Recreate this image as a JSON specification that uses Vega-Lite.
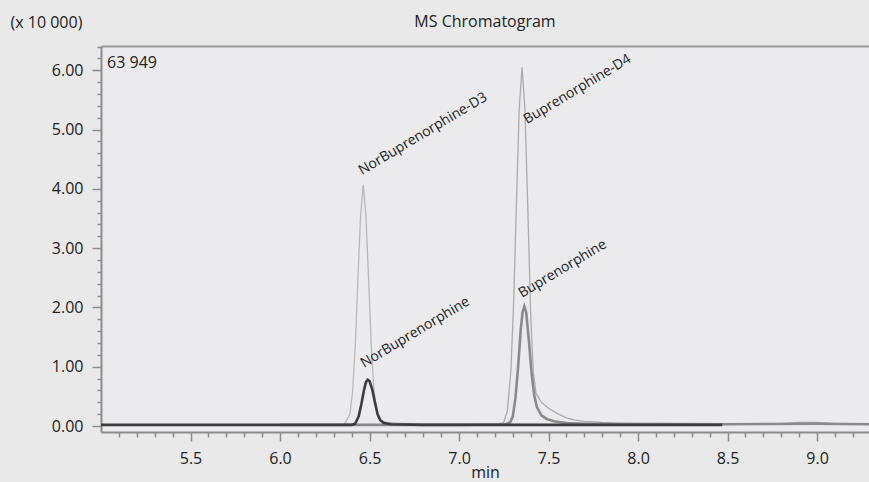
{
  "$schema": "https://vega.github.io/schema/vega-lite/v6.json",
  "width": 768,
  "height": 386,
  "autosize": {"type": "none"},
  "padding": {"left": 101, "top": 46, "right": 0, "bottom": 50},
  "background": "#e9e9ea",
  "title": {"text": "MS Chromatogram", "anchor": "middle", "fontSize": 16, "fontWeight": "normal", "color": "#222222", "font": "Open Sans", "dy": 20},
  "config": {"font": "Open Sans", "view": {"stroke": null, "fill": "#ebebed"}, "axis": {"labelOverlap": false, "labelBound": false, "labelFlush": false}},
  "resolve": {"axis": {"x": "independent", "y": "independent"}},
  "datasets": {
    "traces": [
      {"series": "NorBuprenorphine-D3", "t": 6.0, "v": 0.02},
      {"series": "NorBuprenorphine-D3", "t": 6.3, "v": 0.02},
      {"series": "NorBuprenorphine-D3", "t": 6.36, "v": 0.03},
      {"series": "NorBuprenorphine-D3", "t": 6.39, "v": 0.2},
      {"series": "NorBuprenorphine-D3", "t": 6.405, "v": 0.57},
      {"series": "NorBuprenorphine-D3", "t": 6.42, "v": 1.34},
      {"series": "NorBuprenorphine-D3", "t": 6.435, "v": 2.48},
      {"series": "NorBuprenorphine-D3", "t": 6.45, "v": 3.55},
      {"series": "NorBuprenorphine-D3", "t": 6.465, "v": 4.07},
      {"series": "NorBuprenorphine-D3", "t": 6.48, "v": 3.55},
      {"series": "NorBuprenorphine-D3", "t": 6.495, "v": 2.45},
      {"series": "NorBuprenorphine-D3", "t": 6.51, "v": 1.34},
      {"series": "NorBuprenorphine-D3", "t": 6.525, "v": 0.6},
      {"series": "NorBuprenorphine-D3", "t": 6.54, "v": 0.25},
      {"series": "NorBuprenorphine-D3", "t": 6.56, "v": 0.1},
      {"series": "NorBuprenorphine-D3", "t": 6.6, "v": 0.06},
      {"series": "NorBuprenorphine-D3", "t": 6.7, "v": 0.04},
      {"series": "NorBuprenorphine-D3", "t": 7.0, "v": 0.03},
      {"series": "NorBuprenorphine-D3", "t": 7.5, "v": 0.03},
      {"series": "NorBuprenorphine-D3", "t": 8.0, "v": 0.03},
      {"series": "NorBuprenorphine-D3", "t": 8.5, "v": 0.03},
      {"series": "NorBuprenorphine-D3", "t": 9.0, "v": 0.03},
      {"series": "NorBuprenorphine-D3", "t": 9.29, "v": 0.03},

      {"series": "Buprenorphine-D4", "t": 6.0, "v": 0.02},
      {"series": "Buprenorphine-D4", "t": 6.6, "v": 0.03},
      {"series": "Buprenorphine-D4", "t": 7.0, "v": 0.03},
      {"series": "Buprenorphine-D4", "t": 7.2, "v": 0.03},
      {"series": "Buprenorphine-D4", "t": 7.25, "v": 0.06},
      {"series": "Buprenorphine-D4", "t": 7.27, "v": 0.26},
      {"series": "Buprenorphine-D4", "t": 7.29, "v": 0.95},
      {"series": "Buprenorphine-D4", "t": 7.305, "v": 2.09},
      {"series": "Buprenorphine-D4", "t": 7.32, "v": 3.7},
      {"series": "Buprenorphine-D4", "t": 7.336, "v": 5.34},
      {"series": "Buprenorphine-D4", "t": 7.352, "v": 6.05},
      {"series": "Buprenorphine-D4", "t": 7.368, "v": 5.34},
      {"series": "Buprenorphine-D4", "t": 7.384, "v": 3.7},
      {"series": "Buprenorphine-D4", "t": 7.4, "v": 1.9},
      {"series": "Buprenorphine-D4", "t": 7.415, "v": 0.9},
      {"series": "Buprenorphine-D4", "t": 7.43, "v": 0.55},
      {"series": "Buprenorphine-D4", "t": 7.46, "v": 0.4},
      {"series": "Buprenorphine-D4", "t": 7.5, "v": 0.3},
      {"series": "Buprenorphine-D4", "t": 7.55, "v": 0.21},
      {"series": "Buprenorphine-D4", "t": 7.6, "v": 0.14},
      {"series": "Buprenorphine-D4", "t": 7.65, "v": 0.1},
      {"series": "Buprenorphine-D4", "t": 7.7, "v": 0.08},
      {"series": "Buprenorphine-D4", "t": 7.8, "v": 0.06},
      {"series": "Buprenorphine-D4", "t": 7.9, "v": 0.05},
      {"series": "Buprenorphine-D4", "t": 8.0, "v": 0.05},
      {"series": "Buprenorphine-D4", "t": 8.5, "v": 0.04},
      {"series": "Buprenorphine-D4", "t": 8.8, "v": 0.04},
      {"series": "Buprenorphine-D4", "t": 8.9, "v": 0.06},
      {"series": "Buprenorphine-D4", "t": 9.0, "v": 0.06},
      {"series": "Buprenorphine-D4", "t": 9.1, "v": 0.04},
      {"series": "Buprenorphine-D4", "t": 9.29, "v": 0.03},

      {"series": "Buprenorphine", "t": 6.0, "v": 0.02},
      {"series": "Buprenorphine", "t": 7.0, "v": 0.02},
      {"series": "Buprenorphine", "t": 7.26, "v": 0.03},
      {"series": "Buprenorphine", "t": 7.285, "v": 0.06},
      {"series": "Buprenorphine", "t": 7.3, "v": 0.16},
      {"series": "Buprenorphine", "t": 7.315, "v": 0.47},
      {"series": "Buprenorphine", "t": 7.33, "v": 1.0},
      {"series": "Buprenorphine", "t": 7.345, "v": 1.64},
      {"series": "Buprenorphine", "t": 7.355, "v": 1.92},
      {"series": "Buprenorphine", "t": 7.365, "v": 2.02},
      {"series": "Buprenorphine", "t": 7.375, "v": 1.92},
      {"series": "Buprenorphine", "t": 7.39, "v": 1.45},
      {"series": "Buprenorphine", "t": 7.405, "v": 0.9},
      {"series": "Buprenorphine", "t": 7.42, "v": 0.52},
      {"series": "Buprenorphine", "t": 7.435, "v": 0.32},
      {"series": "Buprenorphine", "t": 7.46, "v": 0.18},
      {"series": "Buprenorphine", "t": 7.49, "v": 0.12},
      {"series": "Buprenorphine", "t": 7.53, "v": 0.08},
      {"series": "Buprenorphine", "t": 7.6, "v": 0.05},
      {"series": "Buprenorphine", "t": 7.7, "v": 0.04},
      {"series": "Buprenorphine", "t": 8.0, "v": 0.03},
      {"series": "Buprenorphine", "t": 8.5, "v": 0.03},
      {"series": "Buprenorphine", "t": 9.0, "v": 0.04},
      {"series": "Buprenorphine", "t": 9.29, "v": 0.03},

      {"series": "NorBuprenorphine", "t": 5.0, "v": 0.02},
      {"series": "NorBuprenorphine", "t": 5.5, "v": 0.02},
      {"series": "NorBuprenorphine", "t": 6.0, "v": 0.02},
      {"series": "NorBuprenorphine", "t": 6.4, "v": 0.02},
      {"series": "NorBuprenorphine", "t": 6.42, "v": 0.04},
      {"series": "NorBuprenorphine", "t": 6.44, "v": 0.17},
      {"series": "NorBuprenorphine", "t": 6.455, "v": 0.38},
      {"series": "NorBuprenorphine", "t": 6.47, "v": 0.62},
      {"series": "NorBuprenorphine", "t": 6.48, "v": 0.74},
      {"series": "NorBuprenorphine", "t": 6.49, "v": 0.78},
      {"series": "NorBuprenorphine", "t": 6.5, "v": 0.76},
      {"series": "NorBuprenorphine", "t": 6.515, "v": 0.62},
      {"series": "NorBuprenorphine", "t": 6.53, "v": 0.4},
      {"series": "NorBuprenorphine", "t": 6.545, "v": 0.2},
      {"series": "NorBuprenorphine", "t": 6.56, "v": 0.1},
      {"series": "NorBuprenorphine", "t": 6.58, "v": 0.05},
      {"series": "NorBuprenorphine", "t": 6.62, "v": 0.03},
      {"series": "NorBuprenorphine", "t": 6.8, "v": 0.02},
      {"series": "NorBuprenorphine", "t": 7.0, "v": 0.02},
      {"series": "NorBuprenorphine", "t": 7.5, "v": 0.02},
      {"series": "NorBuprenorphine", "t": 8.0, "v": 0.02},
      {"series": "NorBuprenorphine", "t": 8.47, "v": 0.02}
    ],
    "peaks": [
      {"label": "NorBuprenorphine-D3", "t": 6.458, "v": 4.23},
      {"label": "NorBuprenorphine", "t": 6.469, "v": 0.98},
      {"label": "Buprenorphine-D4", "t": 7.38, "v": 5.09},
      {"label": "Buprenorphine", "t": 7.352, "v": 2.16}
    ],
    "notes": [
      {"label": "63 949", "t": 5.034, "v": 6.04}
    ]
  },
  "layer": [
    {
      "data": {"name": "traces"},
      "transform": [{"filter": "datum.series === 'NorBuprenorphine-D3'"}],
      "mark": {"type": "line", "color": "#b8b8b8", "strokeWidth": 1.3},
      "encoding": {
        "x": {
          "field": "t", "type": "quantitative", "title": "min",
          "scale": {"domain": [5.0, 9.29], "nice": false, "zero": false},
          "axis": {
            "orient": "bottom",
            "values": [5.1,5.2,5.3,5.4,5.5,5.6,5.7,5.8,5.9,6.0,6.1,6.2,6.3,6.4,6.5,6.6,6.7,6.8,6.9,7.0,7.1,7.2,7.3,7.4,7.5,7.6,7.7,7.8,7.9,8.0,8.1,8.2,8.3,8.4,8.5,8.6,8.7,8.8,8.9,9.0,9.1,9.2],
            "labelExpr": "abs(datum.value*2 - round(datum.value*2)) < 0.001 ? format(datum.value, '.1f') : ''",
            "tickSize": {"condition": {"test": "abs(datum.value*2 - round(datum.value*2)) < 0.001", "value": 9}, "value": 5},
            "tickColor": "#8c8c8c", "tickWidth": 1.5,
            "domainColor": "#8c8c8c", "domainWidth": 2,
            "grid": false,
            "labelFontSize": 16, "labelColor": "#222222", "labelPadding": 9,
            "titleFontSize": 16, "titleFontWeight": "normal", "titleColor": "#222222", "titlePadding": -2
          }
        },
        "y": {
          "field": "v", "type": "quantitative", "title": "(x 10 000)",
          "scale": {"domain": [-0.1, 6.41], "nice": false, "zero": false},
          "axis": {
            "titleAngle": 0, "titleAlign": "left", "titleBaseline": "middle",
            "titleX": -91, "titleY": -24, "titleFontSize": 16, "titleFontWeight": "normal", "titleColor": "#222222",
            "values": [0,0.2,0.4,0.6,0.8,1,1.2,1.4,1.6,1.8,2,2.2,2.4,2.6,2.8,3,3.2,3.4,3.6,3.8,4,4.2,4.4,4.6,4.8,5,5.2,5.4,5.6,5.8,6,6.2,6.4],
            "labelExpr": "abs(datum.value - round(datum.value)) < 0.001 ? format(datum.value, '.2f') : ''",
            "tickSize": {"condition": {"test": "abs(datum.value - round(datum.value)) < 0.001", "value": 9}, "value": 4},
            "tickColor": "#8c8c8c", "tickWidth": 1.5,
            "domainColor": "#8c8c8c", "domainWidth": 2,
            "grid": false,
            "labelFontSize": 16, "labelColor": "#222222", "labelPadding": 9
          }
        }
      }
    },
    {
      "data": {"name": "traces"},
      "transform": [{"filter": "datum.series === 'Buprenorphine-D4'"}],
      "mark": {"type": "line", "color": "#ababab", "strokeWidth": 1.3},
      "encoding": {
        "x": {"field": "t", "type": "quantitative", "axis": null},
        "y": {"field": "v", "type": "quantitative", "axis": null}
      }
    },
    {
      "data": {"name": "traces"},
      "transform": [{"filter": "datum.series === 'Buprenorphine'"}],
      "mark": {"type": "line", "color": "#8a8a8a", "strokeWidth": 2.6},
      "encoding": {
        "x": {"field": "t", "type": "quantitative", "axis": null},
        "y": {"field": "v", "type": "quantitative", "axis": null}
      }
    },
    {
      "data": {"name": "traces"},
      "transform": [{"filter": "datum.series === 'NorBuprenorphine'"}],
      "mark": {"type": "line", "color": "#3c3c3c", "strokeWidth": 2.6},
      "encoding": {
        "x": {"field": "t", "type": "quantitative", "axis": null},
        "y": {"field": "v", "type": "quantitative", "axis": null}
      }
    },
    {
      "data": {"name": "peaks"},
      "mark": {"type": "text", "angle": 329, "align": "left", "baseline": "alphabetic", "fontSize": 14, "color": "#222222", "font": "Open Sans"},
      "encoding": {
        "x": {"field": "t", "type": "quantitative", "axis": {"orient": "top", "title": null, "labels": false, "ticks": false, "grid": false, "domainColor": "#999999", "domainWidth": 2}},
        "y": {"field": "v", "type": "quantitative", "axis": null},
        "text": {"field": "label"}
      }
    },
    {
      "data": {"name": "notes"},
      "mark": {"type": "text", "align": "left", "baseline": "alphabetic", "fontSize": 16, "color": "#222222", "font": "Open Sans"},
      "encoding": {
        "x": {"field": "t", "type": "quantitative", "axis": null},
        "y": {"field": "v", "type": "quantitative", "axis": null},
        "text": {"field": "label"}
      }
    }
  ]
}
